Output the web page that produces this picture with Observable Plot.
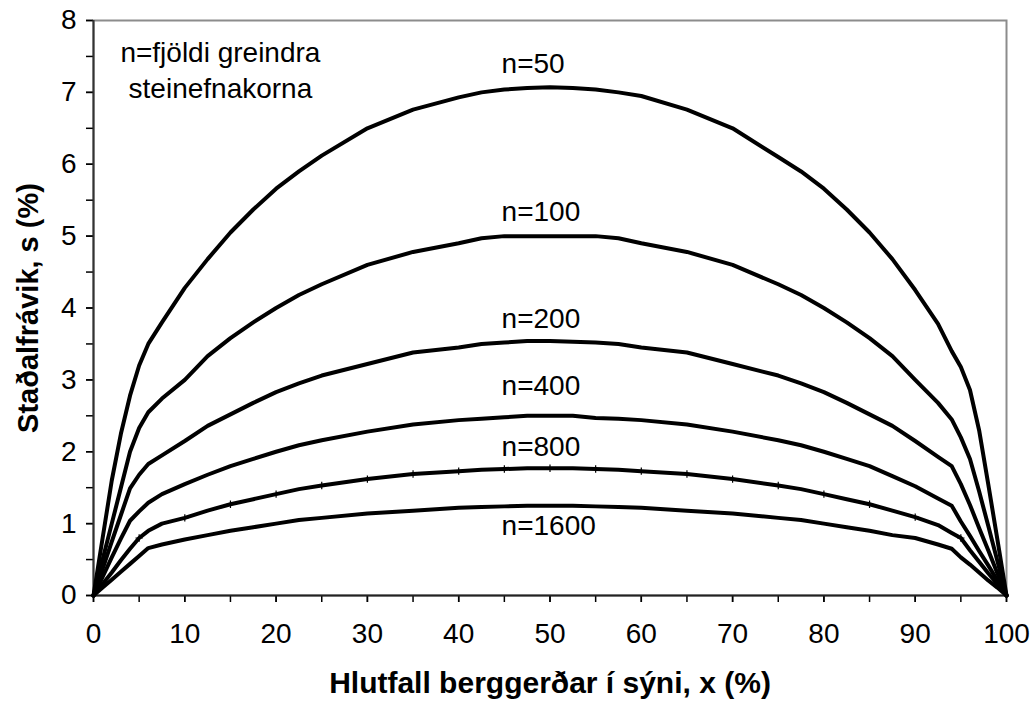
<!DOCTYPE html>
<html>
<head>
<meta charset="utf-8">
<script src="https://cdn.jsdelivr.net/npm/d3@7"></script>
<script src="https://cdn.jsdelivr.net/npm/@observablehq/plot@0.6"></script>
<style>
  html, body { margin: 0; padding: 0; background: #ffffff; }
  #chart svg { display: block; }
</style>
</head>
<body>
<div id="chart"></div>
<script>
// Proportion of rock type in sample, x (%)
const xValues = [0, 1, 2, 3, 4, 5, 6, 7.5, 10, 12.5, 15, 17.5, 20, 22.5, 25, 30, 35, 40, 42.5, 45, 47.5, 50,
                 52.5, 55, 57.5, 60, 65, 70, 75, 77.5, 80, 82.5, 85, 87.5, 90, 92.5, 94, 95, 96, 97, 98, 99, 100];

// Standard deviation s (%) per number of counted grains n
const s50   = [0, 0.80, 1.60, 2.25, 2.78, 3.20, 3.50, 3.80, 4.28, 4.68, 5.05, 5.37, 5.66, 5.90, 6.12, 6.50, 6.76, 6.93, 7.00, 7.04, 7.06, 7.07,
               7.06, 7.04, 7.00, 6.95, 6.76, 6.50, 6.10, 5.90, 5.66, 5.37, 5.05, 4.68, 4.25, 3.78, 3.40, 3.18, 2.86, 2.30, 1.55, 0.78, 0];
const s100  = [0, 0.50, 1.00, 1.50, 2.00, 2.33, 2.55, 2.74, 3.00, 3.33, 3.58, 3.80, 4.00, 4.18, 4.33, 4.60, 4.78, 4.90, 4.97, 5.00, 5.00, 5.00,
               5.00, 5.00, 4.97, 4.90, 4.78, 4.60, 4.33, 4.18, 4.00, 3.80, 3.58, 3.33, 3.00, 2.68, 2.45, 2.20, 1.90, 1.45, 0.97, 0.48, 0];
const s200  = [0, 0.37, 0.75, 1.12, 1.49, 1.68, 1.83, 1.95, 2.15, 2.36, 2.52, 2.68, 2.83, 2.95, 3.06, 3.22, 3.38, 3.45, 3.50, 3.52, 3.54, 3.54,
               3.53, 3.52, 3.50, 3.45, 3.38, 3.22, 3.06, 2.95, 2.83, 2.68, 2.52, 2.36, 2.15, 1.93, 1.80, 1.55, 1.26, 0.94, 0.63, 0.31, 0];
const s400  = [0, 0.26, 0.53, 0.79, 1.04, 1.17, 1.29, 1.41, 1.55, 1.68, 1.80, 1.90, 2.00, 2.09, 2.16, 2.28, 2.38, 2.44, 2.46, 2.48, 2.50, 2.50,
               2.50, 2.47, 2.46, 2.44, 2.38, 2.28, 2.16, 2.09, 2.00, 1.90, 1.80, 1.66, 1.52, 1.35, 1.25, 1.03, 0.83, 0.62, 0.42, 0.21, 0];
const s800  = [0, 0.16, 0.32, 0.49, 0.65, 0.80, 0.90, 1.00, 1.08, 1.18, 1.27, 1.34, 1.41, 1.48, 1.53, 1.62, 1.69, 1.73, 1.75, 1.76, 1.77, 1.77,
               1.77, 1.76, 1.75, 1.73, 1.69, 1.62, 1.53, 1.48, 1.41, 1.34, 1.27, 1.18, 1.09, 0.98, 0.87, 0.80, 0.63, 0.47, 0.31, 0.16, 0];
const s1600 = [0, 0.11, 0.22, 0.33, 0.44, 0.55, 0.66, 0.71, 0.78, 0.84, 0.90, 0.95, 1.00, 1.05, 1.08, 1.14, 1.18, 1.22, 1.23, 1.24, 1.25, 1.25,
               1.25, 1.24, 1.23, 1.22, 1.18, 1.14, 1.08, 1.05, 1.00, 0.95, 0.90, 0.84, 0.80, 0.71, 0.65, 0.53, 0.43, 0.32, 0.21, 0.11, 0];

const seriesNames = ["n=50", "n=100", "n=200", "n=400", "n=800", "n=1600"];
const seriesValues = [s50, s100, s200, s400, s800, s1600];

// Label positions (x, s) for each curve label
const labelX = [44.7, 44.7, 44.7, 44.7, 44.7, 44.7];
const labelY = [7.40, 5.34, 3.84, 2.92, 2.07, 0.96];

const noteText = ["n=fjöldi greindra", "steinefnakorna"];
const noteX = [13.9, 13.9];
const noteY = [7.55, 7.04];

const xMajor = [0, 10, 20, 30, 40, 50, 60, 70, 80, 90, 100];
const xMinor = [0, 5, 10, 15, 20, 25, 30, 35, 40, 45, 50, 55, 60, 65, 70, 75, 80, 85, 90, 95, 100];
const yMajor = [0, 1, 2, 3, 4, 5, 6, 7, 8];
const yMinor = [0, 0.5, 1, 1.5, 2, 2.5, 3, 3.5, 4, 4.5, 5, 5.5, 6, 6.5, 7, 7.5, 8];

const xTitle = "Hlutfall berggerðar í sýni, x (%)";
const yTitle = "Staðalfrávik, s (%)";

// Build long table
const rows = [];
seriesNames.forEach((name, i) => {
  xValues.forEach((x, j) => rows.push({n: name, x, s: seriesValues[i][j]}));
});
const markerRows = rows.filter(d => d.n === "n=800" && d.x > 0 && d.x < 100 && d.x % 5 === 0);
const labels = seriesNames.map((t, i) => ({t, x: labelX[i], y: labelY[i]}));
const notes = noteText.map((t, i) => ({t, x: noteX[i], y: noteY[i]}));

const chart = Plot.plot({
  width: 1035,
  height: 704,
  marginLeft: 93,
  marginRight: 29,
  marginTop: 20,
  marginBottom: 109,
  style: {fontFamily: "'Liberation Sans', Arial, sans-serif", fontSize: "28px", color: "#000", background: "#fff"},
  x: {domain: [0, 100]},
  y: {domain: [0, 8]},
  marks: [
    Plot.frame({stroke: "#8c8c8c", strokeWidth: 2}),
    Plot.axisX({ticks: xMinor, tickSize: 7, tickFormat: () => "", label: null, strokeWidth: 1.5}),
    Plot.axisX({ticks: xMajor, tickSize: 7, tickPadding: 21, label: null, strokeWidth: 1.5, tickFormat: d => String(d)}),
    Plot.axisY({ticks: yMinor, tickSize: 7, tickFormat: () => "", label: null, strokeWidth: 1.5}),
    Plot.axisY({ticks: yMajor, tickSize: 7, tickPadding: 10, label: null, strokeWidth: 1.5, tickFormat: d => String(d)}),
    Plot.ruleX([0], {stroke: "#333", strokeWidth: 2}),
    Plot.ruleY([0], {stroke: "#222", strokeWidth: 2}),
    Plot.line(rows, {x: "x", y: "s", z: "n", stroke: "#000", strokeWidth: 4, strokeLinejoin: "round", strokeLinecap: "round"}),
    Plot.dot(markerRows, {x: "x", y: "s", symbol: "plus", r: 2.5, stroke: "#000", strokeWidth: 1.2}),
    Plot.text(labels, {x: "x", y: "y", text: "t", textAnchor: "start", lineAnchor: "middle", fontSize: 28, fill: "#000"}),
    Plot.text(notes, {x: "x", y: "y", text: "t", textAnchor: "middle", lineAnchor: "middle", fontSize: 28, fill: "#000"}),
    Plot.text([xTitle], {frameAnchor: "bottom", dy: 88, text: d => d, textAnchor: "middle", lineAnchor: "middle", fontSize: 30, fontWeight: "bold", fill: "#000"}),
    Plot.text([yTitle], {frameAnchor: "left", dx: -65, rotate: -90, text: d => d, textAnchor: "middle", lineAnchor: "middle", fontSize: 29, fontWeight: "bold", fill: "#000"})
  ]
});
document.getElementById("chart").appendChild(chart);
</script>
</body>
</html>
